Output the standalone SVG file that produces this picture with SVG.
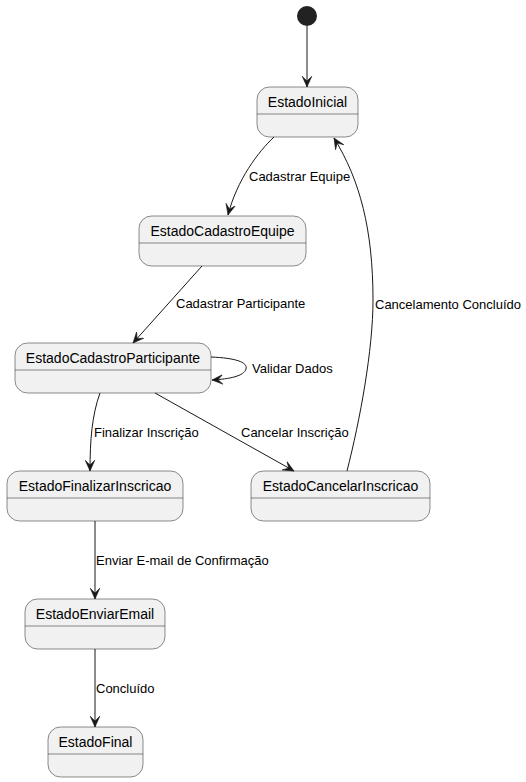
<svg xmlns="http://www.w3.org/2000/svg" width="526" height="782" viewBox="0 0 526 782">
<defs>
<style>
.st rect{fill:#F1F1F1;stroke:#181818;stroke-width:0.5}
.st line{stroke:#181818;stroke-width:0.5}
.st text{font-family:"Liberation Sans",Arial,sans-serif;font-size:14px;fill:#000;text-anchor:middle}
.edge{fill:none;stroke:#181818;stroke-width:1;marker-end:url(#arr)}
.lbl{font-family:"Liberation Sans",Arial,sans-serif;font-size:13px;fill:#000}
</style>
<marker id="arr" markerUnits="userSpaceOnUse" markerWidth="12" markerHeight="12" viewBox="0 0 10 10" refX="9" refY="5" orient="auto">
<path d="M0,1 L9,5 L0,9 L4,5 Z" fill="#181818" stroke="#181818" stroke-width="0.5"/>
</marker>
</defs>
<rect width="526" height="782" fill="#FFFFFF"/>
<g id="start"><circle cx="307" cy="16" r="10" fill="#222222"/></g>
<g id="EstadoInicial" class="st"><rect x="257" y="87" width="101" height="50" rx="12.5"/><line x1="257" y1="114" x2="358" y2="114"/><text x="307.5" y="107">EstadoInicial</text></g>
<g id="EstadoCadastroEquipe" class="st"><rect x="139" y="216" width="167" height="50" rx="12.5"/><line x1="139" y1="243" x2="306" y2="243"/><text x="222.5" y="236">EstadoCadastroEquipe</text></g>
<g id="EstadoCadastroParticipante" class="st"><rect x="15" y="343" width="196" height="50" rx="12.5"/><line x1="15" y1="370" x2="211" y2="370"/><text x="113" y="363">EstadoCadastroParticipante</text></g>
<g id="EstadoFinalizarInscricao" class="st"><rect x="7" y="471" width="176" height="50" rx="12.5"/><line x1="7" y1="498" x2="183" y2="498"/><text x="95" y="491">EstadoFinalizarInscricao</text></g>
<g id="EstadoCancelarInscricao" class="st"><rect x="251" y="471" width="179" height="50" rx="12.5"/><line x1="251" y1="498" x2="430" y2="498"/><text x="340.5" y="491">EstadoCancelarInscricao</text></g>
<g id="EstadoEnviarEmail" class="st"><rect x="25" y="599" width="140" height="50" rx="12.5"/><line x1="25" y1="626" x2="165" y2="626"/><text x="95" y="619">EstadoEnviarEmail</text></g>
<g id="EstadoFinal" class="st"><rect x="48" y="727" width="95" height="50" rx="12.5"/><line x1="48" y1="754" x2="143" y2="754"/><text x="95.5" y="747">EstadoFinal</text></g>
<g id="connectors">
<path class="edge" d="M307,26 L307,87"/>
<path class="edge" d="M274,137 C258,152 237,180 228,215"/>
<path class="edge" d="M202,266 L133,343"/>
<path class="edge" d="M211,357 C235,358 248,362 246,369 C244,376 230,379 212,380"/>
<path class="edge" d="M100,393 C92,415 90,440 90,471"/>
<path class="edge" d="M155,393 L294,471"/>
<path class="edge" d="M347,471 C360,420 373,350 373,300 C373,230 360,180 334,138"/>
<path class="edge" d="M95,521 L95,599"/>
<path class="edge" d="M95,649 L95,727"/>
<text class="lbl" x="249" y="181">Cadastrar Equipe</text>
<text class="lbl" x="176" y="308">Cadastrar Participante</text>
<text class="lbl" x="252" y="373">Validar Dados</text>
<text class="lbl" x="94" y="437">Finalizar Inscrição</text>
<text class="lbl" x="241" y="437">Cancelar Inscrição</text>
<text class="lbl" x="96" y="565">Enviar E-mail de Confirmação</text>
<text class="lbl" x="96" y="693">Concluído</text>
<text class="lbl" x="375" y="309">Cancelamento Concluído</text>
</g>
</svg>
